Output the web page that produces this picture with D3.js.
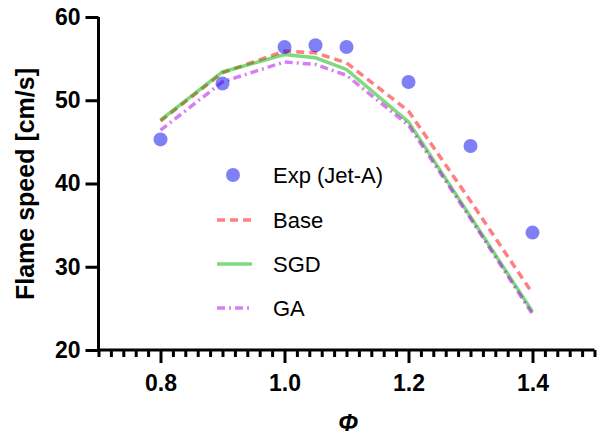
<!DOCTYPE html>
<html>
<head>
<meta charset="utf-8">
<script src="https://cdn.jsdelivr.net/npm/d3@7"></script>
<style>
  html, body { margin: 0; padding: 0; background: #fff; }
  svg { display: block; }
</style>
</head>
<body>
<svg id="chart" width="603" height="436"></svg>
<script>
// ---- data ----
const expPhi   = [0.8, 0.9, 1.0, 1.05, 1.1, 1.2, 1.3, 1.4];
const expSpeed = [45.3, 52.0, 56.4, 56.6, 56.4, 52.2, 44.5, 34.1];
const modelPhi = [0.8, 0.9, 1.0, 1.05, 1.1, 1.2, 1.3, 1.4];
const baseSpeed = [47.5, 53.3, 55.9, 55.7, 54.5, 48.7, 37.9, 26.8];
const sgdSpeed  = [47.6, 53.4, 55.5, 55.1, 53.7, 47.4, 36.0, 24.6];
const gaSpeed   = [46.4, 52.2, 54.6, 54.3, 53.0, 47.0, 35.8, 24.3];
const xMajorTicks = [0.8, 1.0, 1.2, 1.4];
const yMajorTicks = [20, 30, 40, 50, 60];
const legendLabels = ["Exp (Jet-A)", "Base", "SGD", "GA"];
const xTitle = "\u03A6";
const yTitle = "Flame speed [cm/s]";

// ---- layout ----
const svg = d3.select("#chart");
const x = d3.scaleLinear().domain([0.7, 1.5]).range([98.5, 594.5]);
const y = d3.scaleLinear().domain([20, 60]).range([350, 17]);
const tickFont = "'Liberation Sans', Arial, sans-serif";

const series = [
  {name: legendLabels[1], vals: baseSpeed, color: "#ff0000", op: 0.5, dash: "8,5"},
  {name: legendLabels[2], vals: sgdSpeed,  color: "#00b400", op: 0.5, dash: null},
  {name: legendLabels[3], vals: gaSpeed,   color: "#b000e0", op: 0.5, dash: "8,4,2,4"}
];

const line = d3.line().x(d => x(d[0])).y(d => y(d[1]));
series.forEach(s => {
  svg.append("path")
    .datum(modelPhi.map((p, i) => [p, s.vals[i]]))
    .attr("d", line)
    .attr("fill", "none")
    .attr("stroke", s.color)
    .attr("stroke-opacity", s.op)
    .attr("stroke-width", 3.5)
    .attr("stroke-dasharray", s.dash);
});

svg.append("g").selectAll("circle")
  .data(expPhi.map((p, i) => [p, expSpeed[i]]))
  .join("circle")
  .attr("cx", d => x(d[0]))
  .attr("cy", d => y(d[1]))
  .attr("r", 7)
  .attr("fill", "#0000ee")
  .attr("fill-opacity", 0.5);

// ---- axes ----
const minorTicks = d3.range(0, 41).map(i => +(0.7 + i * 0.02).toFixed(2))
  .filter(v => !xMajorTicks.some(m => Math.abs(m - v) < 1e-6));

const xMinor = svg.append("g").attr("transform", "translate(0,350)")
  .call(d3.axisBottom(x).tickValues(minorTicks).tickSize(7).tickSizeOuter(0).tickFormat(""));
const xMajor = svg.append("g").attr("transform", "translate(0,350)")
  .call(d3.axisBottom(x).tickValues(xMajorTicks).tickSize(13).tickSizeOuter(0)
        .tickPadding(12).tickFormat(d3.format(".1f")));
xMinor.select(".domain").remove();
const yAxis = svg.append("g").attr("transform", "translate(98.5,0)")
  .call(d3.axisLeft(y).tickValues(yMajorTicks).tickSize(13).tickSizeOuter(0).tickPadding(5));

[xMinor, xMajor, yAxis].forEach(g => {
  g.selectAll("line").attr("stroke", "#000").attr("stroke-width", 3);
  g.selectAll(".domain").attr("stroke", "#000").attr("stroke-width", 3);
  g.selectAll("text").attr("font-family", tickFont).attr("font-weight", "bold")
    .attr("font-size", 23).attr("fill", "#000");
});
xMajor.select(".domain").attr("d", "M98.5,0H594.5");
yAxis.select(".domain").attr("d", "M0,17V351.5");

// ---- titles ----
svg.append("text")
  .attr("transform", "translate(34,184) rotate(-90)")
  .attr("text-anchor", "middle")
  .attr("font-family", tickFont).attr("font-weight", "bold").attr("font-size", 25)
  .text(yTitle);
svg.append("text")
  .attr("x", 348).attr("y", 431)
  .attr("text-anchor", "middle")
  .attr("font-family", tickFont).attr("font-weight", "bold").attr("font-style", "italic")
  .attr("font-size", 24)
  .text(xTitle);

// ---- legend ----
const lg = svg.append("g");
const rowY = [175, 220, 264, 308];
lg.append("circle").attr("cx", 233).attr("cy", rowY[0]).attr("r", 7)
  .attr("fill", "#0000ee").attr("fill-opacity", 0.5);
series.forEach((s, i) => {
  lg.append("line")
    .attr("x1", 217).attr("x2", 252)
    .attr("y1", rowY[i + 1]).attr("y2", rowY[i + 1])
    .attr("stroke", s.color).attr("stroke-opacity", s.op)
    .attr("stroke-width", 3.5).attr("stroke-dasharray", s.dash);
});
legendLabels.forEach((t, i) => {
  lg.append("text").attr("x", 273).attr("y", rowY[i] + 7.8)
    .attr("font-family", tickFont).attr("font-size", 22).attr("fill", "#000")
    .text(t);
});
</script>
</body>
</html>
